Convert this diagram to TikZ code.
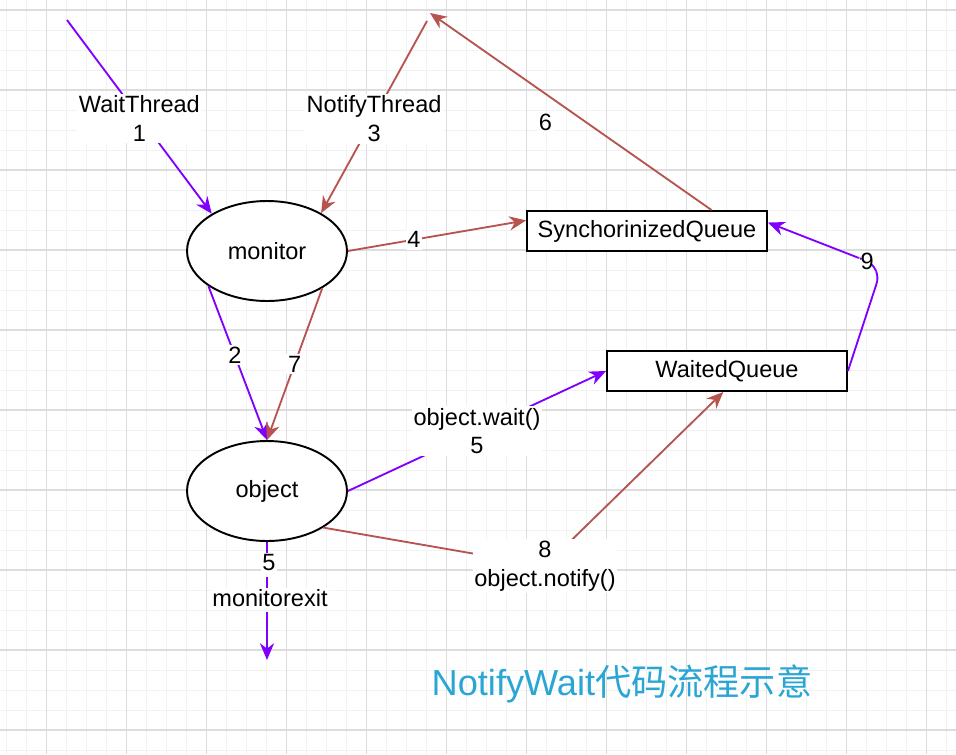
\documentclass[tikz,border=0pt]{standalone}
\usepackage{fontspec}
\setmainfont{Liberation Sans}
\newfontfamily\cjk{Noto Sans CJK SC}
\usepackage{tikz}
\usetikzlibrary{shapes.geometric, arrows.meta, positioning, calc}
\definecolor{wpurple}{RGB}{127, 0, 255}
\definecolor{wred}{RGB}{184, 84, 80}
\definecolor{wtitle}{RGB}{42, 166, 212}
\definecolor{gminor}{RGB}{242, 242, 242}
\definecolor{gmajor}{RGB}{221, 221, 221}

\begin{document}
\begin{tikzpicture}[
    x=0.02cm, y=-0.02cm,
    font=\fontsize{13.4}{16.4}\selectfont,
    state/.style={draw, ellipse, line width=1.1pt, fill=white, minimum width=3.2cm, minimum height=2cm, inner sep=0pt},
    queue/.style={draw, rectangle, line width=1.1pt, fill=white, minimum width=4.8cm, minimum height=0.8cm, inner sep=0pt},
    lbl/.style={fill=white, inner sep=1pt, align=center},
    tip/.style={-{Stealth[length=9.5pt, width=8pt, inset=3pt]}},
    vio/.style={tip, draw=wpurple, line width=1.05pt},
    rust/.style={tip, draw=wred, line width=1.05pt},
    gridminor/.style={gminor, line width=0.5pt},
    gridmajor/.style={gmajor, line width=0.6pt}
]
    % background and grid
    \fill[white] (0,0) rectangle (956,754);
    \useasboundingbox (0,0) rectangle (956,754);
    \foreach \gx in {6.7,26.7,...,956} \draw[gridminor] (\gx,0) -- (\gx,754);
    \foreach \gy in {10,30,...,754} \draw[gridminor] (0,\gy) -- (956,\gy);
    \foreach \gx in {46.7,126.7,...,956} \draw[gridmajor] (\gx,0) -- (\gx,754);
    \foreach \gy in {10,90,...,754} \draw[gridmajor] (0,\gy) -- (956,\gy);

    % nodes
    \node[state] (monitor) at (267,251) {monitor};
    \node[state] (object) at (267,491) {object};
    \node[queue] (syncq) at (647,231) {SynchorinizedQueue};
    \node[queue] (waitq) at (727,371) {WaitedQueue};

    % free ends
    \coordinate (wtstart) at (67,20);
    \coordinate (ntstart) at (427,21);
    \coordinate (sixend) at (430,13);
    \coordinate (exitbreak) at (267,612);
    \coordinate (exitend) at (267,660);
    \coordinate (nbend) at (545,566);
    \coordinate (qbend) at (882,267);

    % threads into monitor
    \draw[vio] (wtstart) -- node[lbl, pos=0.5, yshift=-1pt] {WaitThread\\1} (monitor.146);
    \draw[rust] (ntstart) -- node[lbl, pos=0.5, yshift=-1pt] {NotifyThread\\3} (monitor.35);

    % monitor out
    \draw[rust] (monitor.east) -- node[lbl, pos=0.37] {4} (syncq.175);
    \draw[rust] (syncq.18.4) -- node[lbl, pos=0.59, yshift=-0.58cm] {6} (sixend);
    \draw[vio] (monitor.211) -- node[lbl, pos=0.45] {2} (object.north);
    \draw[rust] (monitor.326) -- node[lbl, pos=0.5] {7} (object.north);

    % object out
    \draw[vio] (object.east) -- node[lbl, pos=0.5] {object.wait()\\5} (waitq.west);
    \draw[rust] (object.327) -- (nbend) -- (waitq.-100);
    \node[lbl] (notifylbl) at (nbend) {8\\object.notify()};
    \draw[wpurple, line width=1.05pt, dash pattern=on 6pt off 4pt] (object.south) -- (exitbreak);
    \draw[vio] (exitbreak) -- (exitend);
    \node[lbl] (exitnum) at (269,563) {5};
    \node[lbl] (exitlbl) at (270,598) {monitorexit};

    % waited back to synchronized
    \draw[vio, rounded corners=10] (waitq.east) -- (qbend) -- node[lbl, pos=0.13] {9} (syncq.4);

    % title
    \node[wtitle, font=\fontsize{20.6}{24}\selectfont] (caption) at (622,684) {NotifyWait{\cjk 代码流程示意}};
\end{tikzpicture}
\end{document}
